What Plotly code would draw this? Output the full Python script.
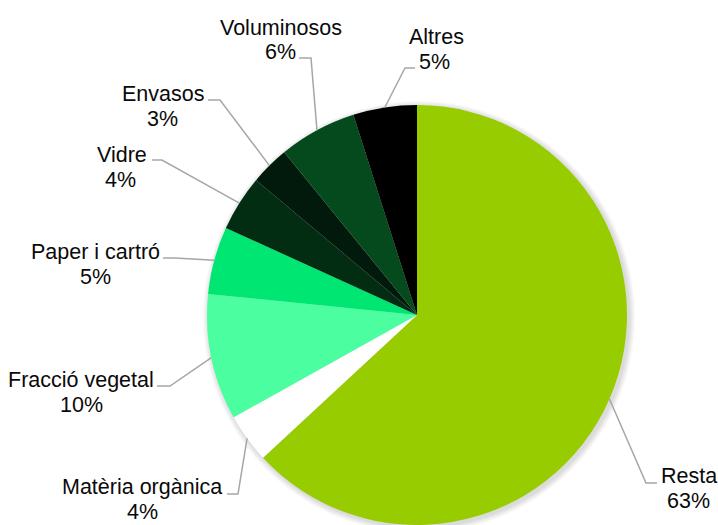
import math
import plotly.graph_objects as go

# ---- data ----
categories = ["Resta", "Matèria orgànica", "Fracció vegetal", "Paper i cartró",
              "Vidre", "Envasos", "Voluminosos", "Altres"]
values = [63.1, 3.8, 9.7, 5.2, 4.3, 3.0, 6.0, 4.9]
colors = ["#96CC00", "#FFFFFF", "#4BFFA0", "#00E673",
          "#032D12", "#021A0C", "#044A1C", "#000000"]

# ---- layout (pixels) ----
W, H = 718, 525
CX, CY, R = 417, 315, 210

# label text centres (name line, percent line) and leader elbow/end points
label_pos = {
    "Resta": ((689, 476), (688, 501), (646, 483), (657, 483)),
    "Matèria orgànica": ((142, 487), (142, 512), (238, 494), (227, 494)),
    "Fracció vegetal": ((81, 380), (81, 405), (170, 386), (157, 386)),
    "Paper i cartró": ((95, 252), (95, 277), (175, 258), (163, 258)),
    "Vidre": ((122, 155), (120, 180), (162, 160), (152, 160)),
    "Envasos": ((163, 94), (162, 119), (220, 100), (208, 100)),
    "Voluminosos": ((281, 28), (280, 52), (311, 58), (299, 58)),
    "Altres": ((436, 37), (435, 62), (405, 68), (415, 68)),
}


def px(x):
    return x / W


def py(y):
    return 1 - y / H


fig = go.Figure()
fig.add_trace(go.Pie(
    labels=categories, values=values, sort=False, direction="clockwise",
    rotation=0, marker=dict(colors=colors, line=dict(width=0)),
    textinfo="none", hoverinfo="label+percent", showlegend=False,
    domain=dict(x=[(CX - R) / W, (CX + R) / W], y=[0, 2 * R / H]),
))

shapes = []
# soft drop shadow behind the pie
for k in range(1, 7):
    r = R + k
    ox, oy = CX + 2, CY + 2
    shapes.append(dict(type="circle", xref="paper", yref="paper", layer="below",
                       x0=px(ox - r), x1=px(ox + r), y0=py(oy + r), y1=py(oy - r),
                       fillcolor="rgba(0,0,0,0.022)", line=dict(width=0)))

total = sum(values)
cum = 0
annotations = []
font = dict(family="Liberation Sans, Arial, sans-serif", size=21.5, color="#0A0A0A")
for cat, v in zip(categories, values):
    mid = (cum + v / 2) / total
    cum += v
    th = 2 * math.pi * mid
    sx = CX + R * math.sin(th)
    sy = CY - R * math.cos(th)
    (nx, ny), (qx, qy), (ex, ey), (tx, ty) = label_pos[cat]
    annotations.append(dict(x=px(nx), y=py(ny), xref="paper", yref="paper",
                            text=cat, showarrow=False, font=font,
                            xanchor="center", yanchor="middle"))
    annotations.append(dict(x=px(qx), y=py(qy), xref="paper", yref="paper",
                            text=f"{round(v / total * 100)}%", showarrow=False,
                            font=font, xanchor="center", yanchor="middle"))
    shapes.append(dict(type="path", xref="paper", yref="paper",
                       path=f"M {px(sx)} {py(sy)} L {px(ex)} {py(ey)} L {px(tx)} {py(ty)}",
                       line=dict(color="#A6A6A6", width=1.5)))

fig.update_layout(
    width=W, height=H, margin=dict(l=0, r=0, t=0, b=0),
    paper_bgcolor="white", plot_bgcolor="white",
    annotations=annotations, shapes=shapes,
)

fig.write_html("out.html", config={"displayModeBar": False},
               post_script="document.body.style.margin='0px';"
                           "document.body.style.overflow='hidden';")
